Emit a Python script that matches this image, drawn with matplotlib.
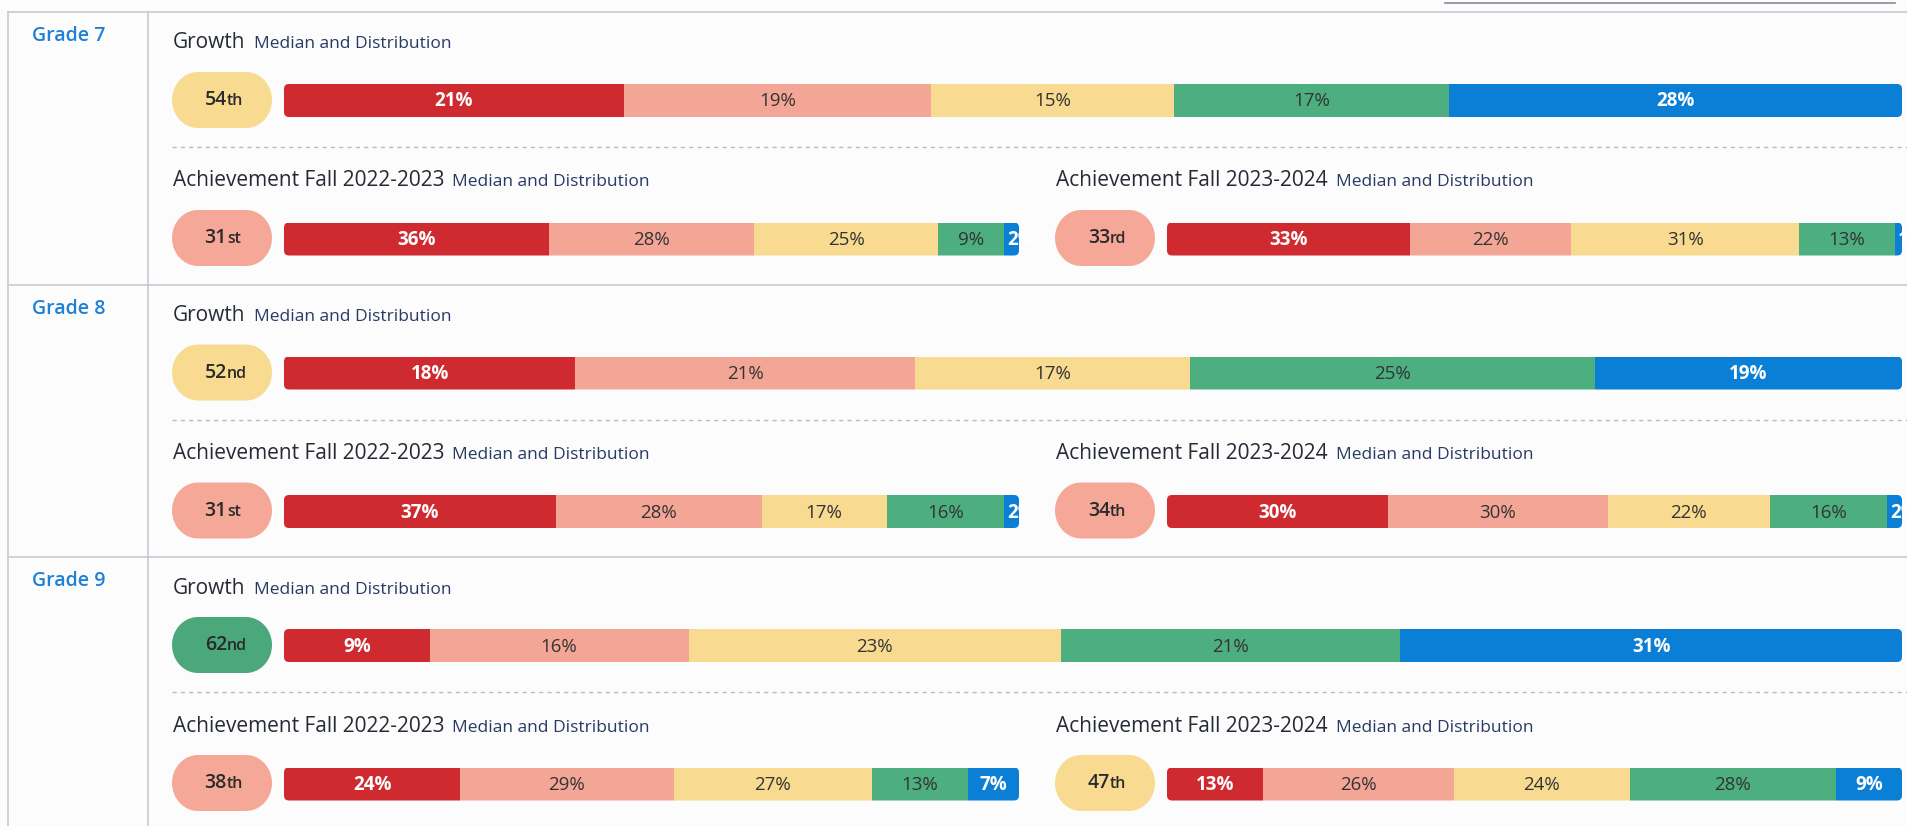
import matplotlib.pyplot as plt
from matplotlib.patches import FancyBboxPatch, Polygon
import numpy as np

plt.rcParams['font.family'] = ['Open Sans', 'DejaVu Sans']

grades = ['Grade 7', 'Grade 8', 'Grade 9']
growth_median = ['54', '52', '62']
growth_suffix = ['th', 'nd', 'nd']
growth_dist = [[21, 19, 15, 17, 28],
               [18, 21, 17, 25, 19],
               [9, 16, 23, 21, 31]]
ach22_median = ['31', '31', '38']
ach22_suffix = ['st', 'st', 'th']
ach22_dist = [[36, 28, 25, 9, 2],
              [37, 28, 17, 16, 2],
              [24, 29, 27, 13, 7]]
ach23_median = ['33', '34', '47']
ach23_suffix = ['rd', 'th', 'th']
ach23_dist = [[33, 22, 31, 13, 1],
              [30, 30, 22, 16, 2],
              [13, 26, 24, 28, 9]]

seg_colors = ['#cf2a30', '#f4a696', '#f8da91', '#4dae80', '#0b7fd6']
seg_text = ['white', '#333333', '#333333', '#333333', 'white']
seg_weight = ['bold', 'normal', 'normal', 'normal', 'bold']


def pill_color(m):
    m = int(m)
    if m < 41:
        return '#f5a898'
    if m < 61:
        return '#f8db90'
    return '#4aa87a'


W, H = 1907, 826
fig = plt.figure(figsize=(W / 100, H / 100), dpi=100)
fig.patch.set_facecolor('#fcfcfd')
ax = fig.add_axes([0, 0, 1, 1])
ax.set_xlim(0, W)
ax.set_ylim(H, 0)
ax.axis('off')

line_c = '#c9c9d3'
block_h = 272.5
top = 12
# frame
ax.plot([8, W], [top, top], color=line_c, lw=1.2)
ax.plot([8, 8], [top, H], color=line_c, lw=1.2)
ax.plot([148, 148], [top, H], color=line_c, lw=1.2)
ax.plot([1445, 1895], [2.5, 2.5], color='#8a8a95', lw=1.2)

titles = []


def draw_title(x, y, main):
    t = ax.text(x, y, main, fontsize=15, color='#252a35', va='center', ha='left')
    titles.append(t)


def pill_outline(x, y, w, h, rx, ry):
    # rounded box with elliptical corners
    pts = []
    corners = [(x + w - rx, y + h - ry, 0), (x + rx, y + h - ry, 90),
               (x + rx, y + ry, 180), (x + w - rx, y + ry, 270)]
    for cx, cy, a0 in corners:
        for a in np.radians(np.linspace(a0, a0 + 90, 16)):
            pts.append((cx + rx * np.cos(a), cy + ry * np.sin(a)))
    return pts


def draw_pill(x, yc, num, suf):
    p = Polygon(pill_outline(x, yc - 28, 100, 56, 26, 28), closed=True,
                fc=pill_color(num), ec='none')
    ax.add_patch(p)
    ax.text(x + 55, yc, num, fontsize=14, color='#2a2a2a', ha='right', va='center',
            fontweight='semibold')
    ax.text(x + 55, yc + 1, suf, fontsize=11.5, color='#2a2a2a', ha='left', va='center',
            fontweight='semibold')


def draw_bar(x0, x1, yc, dist):
    width = x1 - x0
    vals = np.array(dist, dtype=float)
    widths = vals / vals.sum() * width
    lefts = x0 + np.concatenate([[0], np.cumsum(widths)[:-1]])
    outline = FancyBboxPatch((x0, yc - 16.5), width, 33, boxstyle='round,pad=0,rounding_size=5',
                             fc='none', ec='none')
    ax.add_patch(outline)
    bars = ax.barh([yc] * len(vals), widths, left=lefts, height=33, color=seg_colors)
    for i, b in enumerate(bars):
        b.set_clip_path(outline)
        t = ax.text(lefts[i] + widths[i] / 2, yc + 1, f'{dist[i]}%', fontsize=13.5,
                    color=seg_text[i], fontweight=seg_weight[i], ha='center', va='center')
        if widths[i] < 45:
            t.set_ha('left')
            t.set_x(lefts[i] + 3)
            t.set_clip_path(b)


for g in range(3):
    bt = top + g * block_h
    if g > 0:
        ax.plot([8, W], [bt, bt], color=line_c, lw=1.2)
    ax.text(32, bt + 24, grades[g], fontsize=14, color='#1d80d6', fontweight='semibold',
            va='center', ha='left')
    draw_title(173, bt + 31, 'Growth')
    draw_pill(172, bt + 88, growth_median[g], growth_suffix[g])
    draw_bar(284, 1902, bt + 88.5, growth_dist[g])
    ax.plot([172, W], [bt + 135, bt + 135], color='#b8b8cc', lw=1, ls=(0, (3, 3)))
    draw_title(173, bt + 169, 'Achievement Fall 2022-2023')
    draw_pill(172, bt + 226, ach22_median[g], ach22_suffix[g])
    draw_bar(284, 1019, bt + 227, ach22_dist[g])
    draw_title(1056, bt + 169, 'Achievement Fall 2023-2024')
    draw_pill(1055, bt + 226, ach23_median[g], ach23_suffix[g])
    draw_bar(1167, 1902, bt + 227, ach23_dist[g])

# subtitles after main titles
fig.canvas.draw()
r = fig.canvas.get_renderer()
inv = ax.transData.inverted()
for t in titles:
    bb = t.get_window_extent(r)
    xr = inv.transform((bb.x1, bb.y0))[0]
    ax.text(xr + 8, t.get_position()[1] + 1.5, 'Median and Distribution', fontsize=12.5,
            color='#283a63', va='center', ha='left')

fig.savefig('out.png', dpi=100, facecolor=fig.get_facecolor())
